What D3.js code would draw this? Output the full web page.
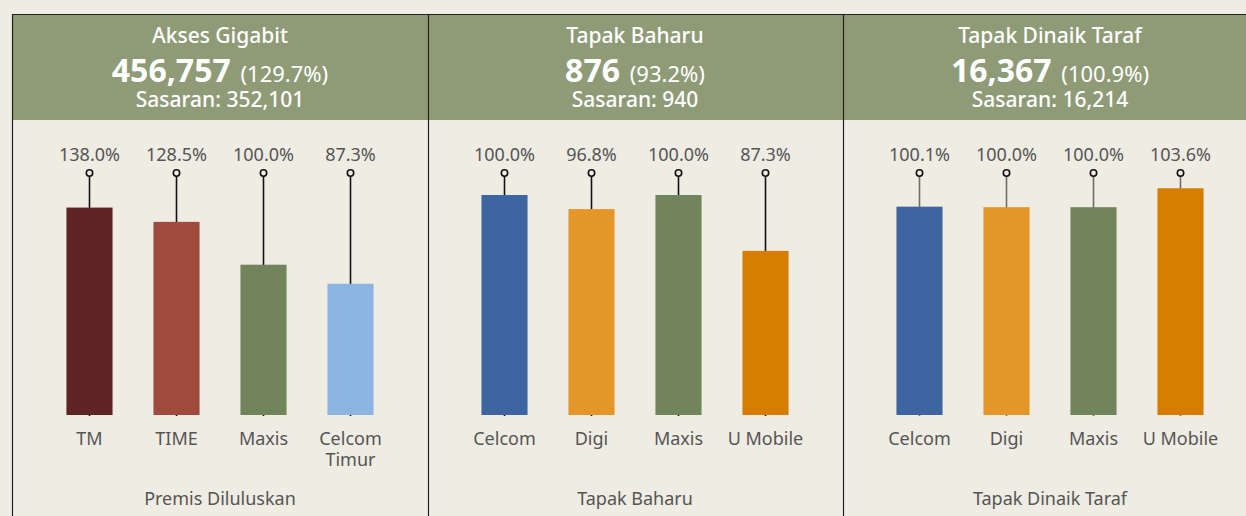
<!DOCTYPE html>
<html>
<head>
<meta charset="utf-8">
<title>Pencapaian Gigabit & Tapak</title>
<style>
  body { margin: 0; padding: 0; background: #efece4; }
  svg { display: block; font-family: 'Noto Sans', 'Open Sans', sans-serif; }
  .hdr text { fill: #fff; text-anchor: middle; }
  .pct, .cat, .axis-title { fill: #555; text-anchor: middle; font-size: 18px; }
</style>
</head>
<body>
<div id="vis"></div>
<script src="https://cdn.jsdelivr.net/npm/d3@7"></script>
<script>
// data
var panelTitles = ["Akses Gigabit", "Tapak Baharu", "Tapak Dinaik Taraf"];
var panelTotals = [456757, 876, 16367];
var panelPct = [129.7, 93.2, 100.9];
var panelTargets = [352101, 940, 16214];
var panelAxisTitles = ["Premis Diluluskan", "Tapak Baharu", "Tapak Dinaik Taraf"];
var operators = [
  ["TM", "TIME", "Maxis", "Celcom Timur"],
  ["Celcom", "Digi", "Maxis", "U Mobile"],
  ["Celcom", "Digi", "Maxis", "U Mobile"]
];
var achievement = [
  [138.0, 128.5, 100.0, 87.3],
  [100.0, 96.8, 100.0, 87.3],
  [100.1, 100.0, 100.0, 103.6]
];
var yDomains = [[0, 161], [50, 105], [60.5, 106.5]];

var opColors = {
  "TM": "#5f2426", "TIME": "#9e4a3d", "Maxis": "#71845b", "Celcom Timur": "#8bb4e0",
  "Celcom": "#3d66a0", "Digi": "#e49628", "U Mobile": "#d67d00"
};
var stemColors = ["#111", "#111", "#6e6d66"];

var width = 1246, height = 516,
    boxLeft = 12.5, boxTop = 14.5,
    headerBottom = 120,
    baseline = 415, stemTop = 173;

var fmt = d3.format(",");

var svg = d3.select("#vis").append("svg")
  .attr("width", width)
  .attr("height", height);

svg.append("rect").attr("width", width).attr("height", height).attr("fill", "#efece4");

var panelX = d3.scaleBand().domain(d3.range(3)).range([boxLeft, boxLeft + 3 * 415]);
var pw = panelX.bandwidth();

// header strip
svg.append("rect")
  .attr("x", boxLeft).attr("y", boxTop)
  .attr("width", width - boxLeft + 10).attr("height", headerBottom - boxTop)
  .attr("fill", "#8f9b77");

var panel = svg.selectAll("g.panel")
  .data(d3.range(3))
  .enter().append("g")
    .attr("class", "panel")
    .attr("transform", function(i) { return "translate(" + panelX(i) + ",0)"; });

var hdr = panel.append("g").attr("class", "hdr");
hdr.append("text")
  .attr("x", pw / 2).attr("y", 42.5)
  .style("font-size", "21px").style("font-weight", 500)
  .text(function(i) { return panelTitles[i]; });
var big = hdr.append("text").attr("x", pw / 2).attr("y", 81.5);
big.append("tspan")
  .style("font-size", "32px").style("font-weight", 700)
  .text(function(i) { return fmt(panelTotals[i]); });
big.append("tspan")
  .attr("dx", 4)
  .style("font-size", "22px")
  .text(function(i) { return " (" + panelPct[i].toFixed(1) + "%)"; });
hdr.append("text")
  .attr("x", pw / 2).attr("y", 107)
  .style("font-size", "21px").style("font-weight", 500)
  .text(function(i) { return "Sasaran: " + fmt(panelTargets[i]); });

panel.each(function(i) {
  var g = d3.select(this);
  var x = d3.scaleBand().domain(operators[i]).range([0, pw])
    .paddingInner(0.47).paddingOuter(0.62);
  var y = d3.scaleLinear().domain(yDomains[i]).range([baseline, stemTop]);
  var rows = operators[i].map(function(op, j) { return { op: op, v: achievement[i][j] }; });
  var cx = function(d) { return x(d.op) + x.bandwidth() / 2; };

  g.selectAll("line.stem").data(rows).enter().append("line")
    .attr("class", "stem")
    .attr("x1", cx).attr("x2", cx)
    .attr("y1", y.range()[1] + 3.5).attr("y2", baseline + 1)
    .attr("stroke", stemColors[i]).attr("stroke-width", 1.6);

  g.selectAll("rect.bar").data(rows).enter().append("rect")
    .attr("class", "bar")
    .attr("x", function(d) { return x(d.op); })
    .attr("width", x.bandwidth())
    .attr("y", function(d) { return y(d.v); })
    .attr("height", function(d) { return baseline - y(d.v); })
    .attr("fill", function(d) { return opColors[d.op]; });

  g.selectAll("circle.dot").data(rows).enter().append("circle")
    .attr("cx", cx)
    .attr("cy", y.range()[1])
    .attr("r", 3.2)
    .attr("fill", "#efece4").attr("stroke", "#111").attr("stroke-width", 1.6);

  g.selectAll("text.pct").data(rows).enter().append("text")
    .attr("class", "pct")
    .attr("x", cx)
    .attr("y", 161)
    .text(function(d) { return d.v.toFixed(1) + "%"; });

  // category labels, one text per line
  var lines = [];
  rows.forEach(function(d) {
    var words = d.op === "Celcom Timur" ? ["Celcom", "Timur"] : [d.op];
    words.forEach(function(w, k) { lines.push({ op: d.op, w: w, k: k }); });
  });
  g.selectAll("text.cat").data(lines).enter().append("text")
    .attr("class", "cat")
    .attr("x", cx)
    .attr("y", function(d) { return 445 + d.k * 21; })
    .text(function(d) { return d.w; });

  g.append("text")
    .attr("class", "axis-title")
    .attr("x", pw / 2).attr("y", 505)
    .text(panelAxisTitles[i]);
});

// borders
svg.append("path")
  .attr("d", "M" + boxLeft + "," + (height + 5) + "V" + boxTop + "H" + (width + 5))
  .attr("fill", "none").attr("stroke", "#222").attr("stroke-width", 1.2);
svg.selectAll("line.div").data([1, 2]).enter().append("line")
  .attr("x1", function(i) { return Math.round(panelX(i)) + 0.5; })
  .attr("x2", function(i) { return Math.round(panelX(i)) + 0.5; })
  .attr("y1", boxTop).attr("y2", height)
  .attr("stroke", "#222").attr("stroke-width", 1.2);
</script>
</body>
</html>
